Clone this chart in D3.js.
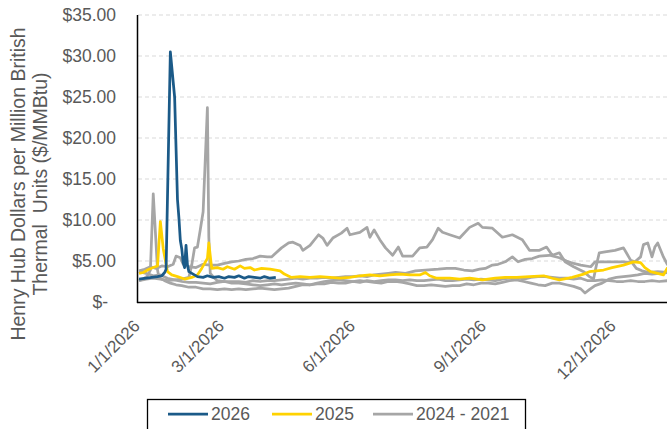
<!DOCTYPE html>
<html>
<head>
<meta charset="utf-8">
<script src="https://cdn.jsdelivr.net/npm/d3@7"></script>
<style>
  body { margin: 0; background: #fff; }
  text { font-family: "Liberation Sans", Arial, sans-serif; fill: #595959; }
</style>
</head>
<body>
<script>
// day of year (0 = 1/1) and $/MMBtu
var s2026 = [[0,2.8],[5,2.9],[9,3.0],[13,3.1],[16,3.2],[18,3.6],[19,4.0],[22,30.5],[25,25.0],[27,12.5],[28,10.3],[29,7.5],[30,6.5],[31,4.8],[32,4.2],[33,6.9],[34,4.5],[35,3.7],[38,3.4],[41,3.1],[45,3.0],[48,3.2],[52,3.0],[56,3.1],[60,2.9],[63,3.1],[67,3.0],[70,3.2],[74,2.9],[77,3.1],[81,3.0],[85,2.9],[88,3.1],[92,2.9],[96,3.0]];

var s2025 = [[0,3.5],[3,3.6],[7,4.0],[10,4.2],[13,4.4],[15,9.8],[17,6.5],[20,3.7],[23,3.3],[27,3.1],[32,2.8],[37,3.0],[41,3.3],[44,4.1],[48,5.3],[49,7.2],[51,4.1],[55,4.2],[59,4.0],[62,4.3],[67,4.0],[71,4.4],[74,4.1],[78,4.2],[81,3.9],[86,4.1],[92,4.0],[99,3.8],[102,3.4],[107,3.0],[113,3.1],[120,3.0],[127,3.1],[134,3.0],[141,2.9],[148,3.0],[155,3.2],[162,3.3],[169,3.2],[176,3.3],[183,3.4],[190,3.3],[197,3.3],[201,3.6],[204,3.2],[209,2.9],[218,2.9],[225,2.8],[232,2.9],[241,2.7],[250,2.9],[257,3.0],[265,3.0],[274,3.1],[284,3.2],[290,2.9],[295,2.7],[304,3.0],[312,3.4],[316,3.7],[326,3.9],[332,4.2],[340,4.5],[347,4.9],[352,4.8],[355,4.2],[359,3.7],[366,3.4],[368,3.3],[371,4.2]];

var s2024 = [[0,2.6],[3,2.8],[6,3.2],[8,3.9],[10,13.2],[13,3.9],[14,3.0],[18,2.6],[22,2.3],[26,2.1],[30,2.0],[35,1.8],[40,1.8],[45,1.6],[50,1.6],[55,1.5],[60,1.6],[65,1.5],[70,1.6],[75,1.5],[80,1.6],[85,1.7],[90,1.6],[95,1.5],[100,1.6],[105,1.7],[110,1.9],[115,2.1],[120,2.1],[125,2.3],[130,2.5],[135,2.6],[140,2.7],[145,2.6],[150,2.5],[155,2.6],[160,2.5],[165,2.4],[170,2.3],[175,2.5],[180,2.5],[185,2.4],[190,2.2],[195,2.0],[200,2.0],[205,2.1],[210,2.0],[215,1.9],[220,2.0],[225,2.0],[230,2.2],[235,2.1],[240,2.3],[245,2.3],[250,2.2],[255,2.4],[260,2.6],[265,2.7],[270,2.5],[275,2.3],[280,2.1],[285,2.0],[290,2.3],[295,2.3],[300,2.1],[305,1.9],[310,1.6],[313,1.1],[316,1.5],[320,2.0],[325,2.3],[330,2.8],[335,3.0],[340,3.1],[345,3.2],[350,3.3],[355,3.5],[360,3.4],[365,3.5],[371,3.6]];

var s2023 = [[0,3.7],[5,3.5],[10,3.2],[15,3.3],[20,2.9],[25,2.7],[30,2.5],[35,2.4],[40,2.4],[45,2.3],[50,2.2],[55,2.4],[60,2.5],[65,2.3],[70,2.3],[75,2.2],[80,2.1],[85,2.0],[90,2.1],[95,2.2],[100,2.1],[105,2.2],[110,2.3],[115,2.2],[120,2.1],[125,2.2],[130,2.2],[135,2.4],[140,2.3],[145,2.3],[150,2.5],[155,2.4],[160,2.6],[165,2.5],[170,2.6],[175,2.7],[180,2.7],[185,2.6],[190,2.7],[195,2.6],[200,2.6],[205,2.7],[210,2.8],[215,2.6],[220,2.6],[225,2.7],[230,2.8],[235,2.7],[240,2.8],[245,2.7],[250,2.6],[255,2.8],[260,2.9],[265,3.0],[270,2.8],[275,3.0],[280,3.1],[285,3.1],[290,3.0],[295,2.9],[300,2.9],[305,2.8],[310,2.9],[315,2.6],[320,2.6],[325,2.7],[330,2.6],[335,2.5],[340,2.5],[345,2.6],[350,2.5],[355,2.5],[360,2.6],[365,2.5],[371,2.6]];

var s2022 = [[0,3.8],[4,4.0],[8,4.3],[12,4.1],[16,4.4],[20,4.3],[24,4.6],[26,5.6],[29,5.4],[31,4.6],[35,4.3],[40,4.2],[45,4.6],[50,4.5],[55,4.5],[60,4.7],[65,4.9],[70,5.0],[75,5.2],[80,5.3],[85,5.6],[90,5.5],[93,5.5],[100,6.6],[105,7.2],[108,7.3],[113,6.9],[115,6.3],[120,6.9],[126,8.2],[129,7.8],[132,6.9],[136,7.8],[142,8.4],[146,9.0],[148,8.2],[155,8.5],[160,9.1],[162,7.9],[165,8.8],[169,7.6],[173,6.6],[178,5.7],[182,6.7],[185,5.6],[192,5.6],[197,6.6],[202,6.7],[206,7.6],[210,9.0],[213,8.5],[218,8.2],[225,7.8],[232,9.1],[238,9.6],[241,9.1],[248,9.0],[255,7.9],[262,8.2],[269,7.6],[274,6.3],[281,6.3],[286,6.7],[290,5.7],[295,6.0],[299,4.9],[305,4.3],[312,3.7],[316,3.1],[319,2.8],[321,4.5],[323,6.0],[327,6.1],[334,6.3],[340,6.6],[342,6.0],[345,5.1],[348,4.9],[352,5.5],[354,7.0],[357,7.2],[360,5.5],[362,6.7],[364,7.2],[368,5.5],[371,4.5]];

var s2021 = [[0,2.6],[5,2.8],[10,2.9],[15,2.8],[20,2.6],[25,2.7],[30,2.8],[35,3.0],[37,4.5],[39,6.6],[41,6.7],[43,8.8],[45,11.0],[48,23.7],[49,7.9],[50,3.5],[53,2.9],[55,2.6],[60,2.5],[65,2.5],[70,2.5],[75,2.4],[80,2.6],[85,2.5],[90,2.6],[95,2.6],[100,2.7],[105,2.8],[110,2.9],[115,2.8],[120,2.9],[125,2.9],[130,3.0],[135,2.9],[140,3.0],[145,3.1],[150,3.1],[155,3.2],[160,3.1],[165,3.3],[170,3.4],[175,3.5],[180,3.6],[187,3.5],[194,3.8],[201,3.9],[210,4.0],[216,4.1],[222,4.1],[228,3.9],[234,3.8],[239,4.0],[243,4.1],[248,4.5],[252,4.6],[257,4.9],[262,5.5],[266,4.9],[271,5.2],[276,5.3],[281,5.6],[288,5.7],[295,5.4],[300,5.0],[305,4.7],[310,4.5],[317,4.3],[320,4.9],[330,4.9],[340,4.9],[346,4.8],[349,4.1],[353,3.8],[358,3.6],[364,3.7],[371,3.6]];

var yTicks = [0, 5, 10, 15, 20, 25, 30, 35];
var xTickDates = ["1/1/2026", "3/1/2026", "6/1/2026", "9/1/2026", "12/1/2026"];
var legendLabels = ["2026", "2025", "2024 - 2021"];

var blue = "#1b5a88", yellow = "#ffd200", grey = "#a6a6a6";

var width = 667, height = 429;
var svg = d3.select("body").append("svg")
  .attr("width", width)
  .attr("height", height);

var start = new Date(2026, 0, 1);
var parseDate = d3.timeParse("%m/%d/%Y");

var x = d3.scaleTime()
  .domain([start, new Date(2027, 0, 1)])
  .range([139, 139 + 365 * 1.425]);

var y = d3.scaleLinear()
  .domain([0, 35])
  .range([302, 15]);

// gridlines
svg.append("g")
  .selectAll("line")
  .data(yTicks.filter(function(d) { return d > 0; }))
  .enter().append("line")
  .attr("x1", 138).attr("x2", width)
  .attr("y1", function(d) { return y(d); })
  .attr("y2", function(d) { return y(d); })
  .attr("stroke", "#d9d9d9")
  .attr("stroke-width", 1)
  .attr("stroke-dasharray", "4,3");

// y labels
svg.append("g")
  .selectAll("text")
  .data(yTicks)
  .enter().append("text")
  .attr("x", function(d) { return d === 0 ? 108 : 116; })
  .attr("y", function(d) { return y(d); })
  .attr("dy", "0.35em")
  .style("text-anchor", "end")
  .style("font-size", "17.5px")
  .text(function(d) { return d === 0 ? "$-" : "$" + d.toFixed(2); });

// x labels
svg.append("g")
  .selectAll("text")
  .data(xTickDates)
  .enter().append("text")
  .attr("transform", function(d) {
    return "translate(" + (x(parseDate(d)) + 2) + ",327) rotate(-45)";
  })
  .style("text-anchor", "end")
  .style("font-size", "17px")
  .text(function(d) { return d; });

// y title
var title = svg.append("text")
  .attr("transform", "translate(0,184) rotate(-90)")
  .style("text-anchor", "middle")
  .style("font-size", "19.5px");
title.append("tspan").attr("x", 0).attr("y", 25).text("Henry Hub Dollars per Million British");
title.append("tspan").attr("x", 0).attr("y", 47).style("white-space", "pre").text("Thermal  Units ($/MMBtu)");

var line = d3.line()
  .x(function(d) { return x(d3.timeDay.offset(start, d[0])); })
  .y(function(d) { return y(d[1]); });

var series = [
  {data: s2024, color: grey},
  {data: s2023, color: grey},
  {data: s2022, color: grey},
  {data: s2021, color: grey},
  {data: s2025, color: yellow},
  {data: s2026, color: blue}
];

svg.append("g")
  .selectAll("path")
  .data(series)
  .enter().append("path")
  .attr("d", function(d) { return line(d.data); })
  .attr("fill", "none")
  .attr("stroke", function(d) { return d.color; })
  .attr("stroke-width", 2.75)
  .attr("stroke-linejoin", "round");

// axes
svg.append("line")
  .attr("x1", 137.5).attr("x2", 137.5)
  .attr("y1", 15).attr("y2", 303)
  .attr("stroke", "#000").attr("stroke-width", 1.5);
svg.append("line")
  .attr("x1", 137).attr("x2", width)
  .attr("y1", 302.5).attr("y2", 302.5)
  .attr("stroke", "#000").attr("stroke-width", 1.5);

// legend
var legend = svg.append("g");
legend.append("rect")
  .attr("x", 147.5).attr("y", 399.5)
  .attr("width", 378).attr("height", 40)
  .attr("fill", "none")
  .attr("stroke", "#000")
  .attr("stroke-width", 1.3);

var legendX = [168, 272, 373];
var legendColors = [blue, yellow, grey];
legendLabels.forEach(function(label, i) {
  legend.append("line")
    .attr("x1", legendX[i]).attr("x2", legendX[i] + 40)
    .attr("y1", 414).attr("y2", 414)
    .attr("stroke", legendColors[i])
    .attr("stroke-width", 2.75);
  legend.append("text")
    .attr("x", legendX[i] + 43)
    .attr("y", 420)
    .style("font-size", "17.5px")
    .text(label);
});
</script>
</body>
</html>
